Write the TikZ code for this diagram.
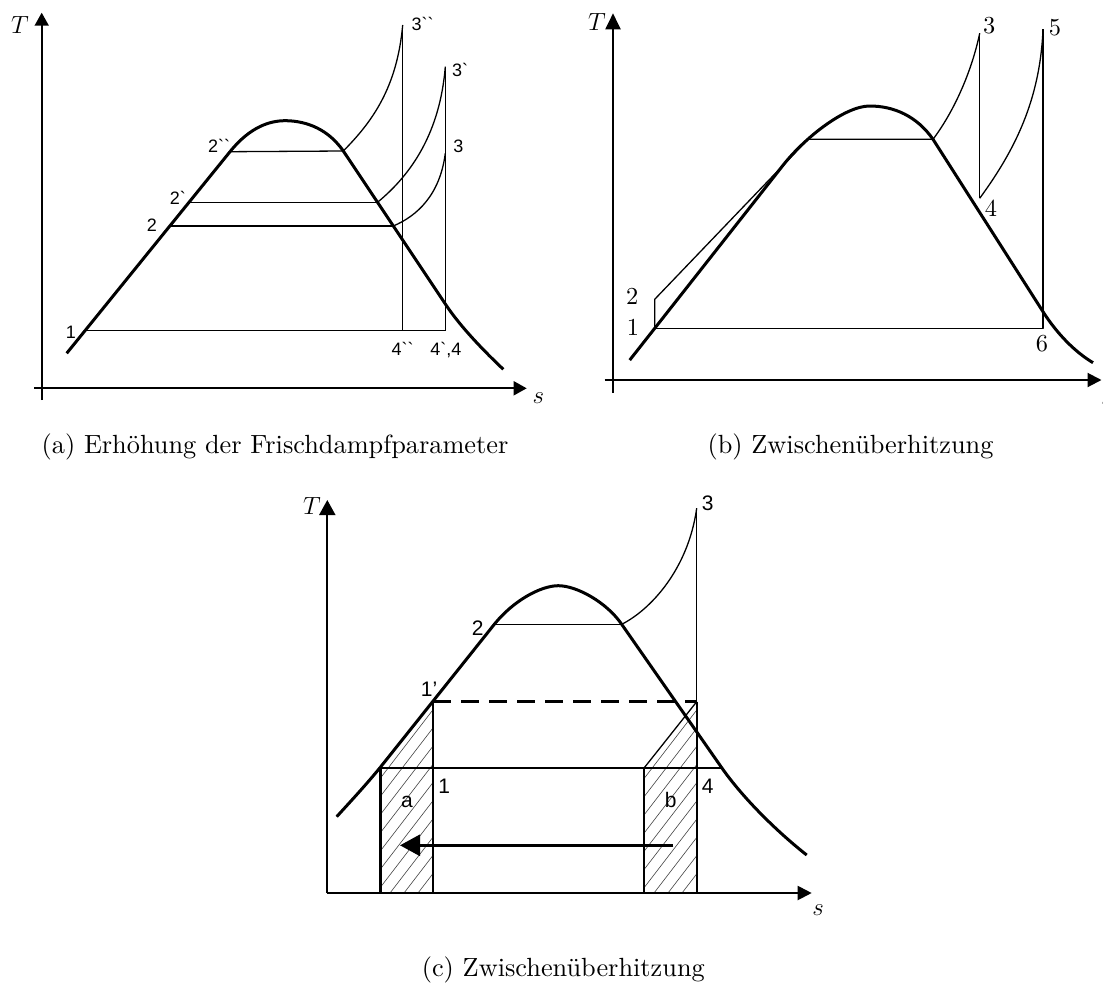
\documentclass[tikz,border=0pt]{standalone}
\usepackage{fontspec}
\newfontfamily\labsans{Liberation Sans}[Ligatures=TeXOff]
\newfontfamily\lmten{lmroman10-regular}[Extension=.otf]
\usetikzlibrary{arrows.meta}
\begin{document}
\begin{tikzpicture}[x=1pt,y=-1pt,
  dome/.style={line width=3pt,line join=round},
  thinl/.style={line width=1.3pt},
  medl/.style={line width=2pt},
  thickl/.style={line width=3pt},
  axisA/.style={line width=1.8pt,-{Triangle[length=13pt,width=14pt]}},
  hatchl/.style={line width=0.6pt,black!75},
  lbA/.style={font=\labsans\fontsize{18}{19}\selectfont,anchor=base,inner sep=0pt},
  lbM/.style={font=\fontsize{24.4}{26}\selectfont,anchor=base,inner sep=0pt},
  lbB/.style={font=\lmten\fontsize{24.4}{26}\selectfont,anchor=base,inner sep=0pt},
  lbC/.style={font=\labsans\fontsize{21}{23}\selectfont,anchor=base,inner sep=0pt},
  capt/.style={font=\lmten\fontsize{26.3}{30}\selectfont,anchor=base,inner sep=0pt}
]
\useasboundingbox (0,0) rectangle (1103,983);

%================ Panel (a) ================
\coordinate (aYb) at (41.7,400);
\coordinate (aYt) at (41.7,12.7);
\coordinate (aXl) at (34,388.3);
\coordinate (aXr) at (526.7,388.3);
\draw[axisA] (aYb) -- (aYt);
\draw[axisA] (aXl) -- (aXr);

\coordinate (a1) at (85.5,330.7);
\coordinate (a2) at (170,226);
\coordinate (a2p) at (189.2,202.3);
\coordinate (a2pp) at (230,151.7);
\coordinate (a2ppr) at (343.3,151);
\coordinate (a2pr) at (377.5,202.3);
\coordinate (a2r) at (393.3,226);
\coordinate (a3pp) at (402.7,25);
\coordinate (a3p) at (445.3,66.7);
\coordinate (a3) at (445.3,153.3);
\coordinate (a4pp) at (402.7,330.7);
\coordinate (a4) at (445.3,330.7);
\coordinate (aDs) at (66.7,353.3);
\coordinate (aPk) at (285,120.7);
\coordinate (aDx) at (446,305);
\coordinate (aDe) at (503.3,369.3);

\draw[thinl] (a2pp) -- (a2ppr);
\draw[thinl] (a2p) -- (a2pr);
\draw[thinl] (a2) -- (a2r);
\draw[thinl] (a1) -- (a4);
\draw[thinl] (a2ppr) .. controls (372,122) and (397,88) .. (a3pp);
\draw[thinl] (a3pp) -- (a4pp);
\draw[thinl] (a2pr) .. controls (412,174) and (440,132) .. (a3p);
\draw[thinl] (a2r) .. controls (417,216) and (440,195) .. (a3);
\draw[thinl] (a3p) -- (a4);

\draw[dome] (aDs) -- (a2pp) .. controls (250,126.8) and (270,120.7) .. (aPk)
  .. controls (300,120.7) and (325.3,125) .. (a2ppr) -- (aDx)
  .. controls (461,327.5) and (485,352) .. (aDe);

\node[lbM] (aT) at (20,33.3) {$T$};
\node[lbM] (aS) at (538.3,403.3) {$s$};
\node[lbA] (la1) at (70.8,338.3) {1};
\node[lbA] (la2) at (152,231.7) {2};
\node[lbA] (la2p) at (177.8,204) {2`};
\node[lbA] (la2pp) at (219,152.7) {2``};
\node[lbA] (la3pp) at (422.5,30) {3``};
\node[lbA] (la3p) at (460,76.7) {3`};
\node[lbA] (la3) at (458.3,152.7) {3};
\node[lbA] (la4pp) at (402.5,355) {4``};
\node[lbA] (la4) at (445.8,355) {4`,4};

\node[capt] (capA) at (275,453.3) {(a) Erhöhung der Frischdampfparameter};

%================ Panel (b) ================
\coordinate (bYb) at (613,392.7);
\coordinate (bYt) at (613,13.3);
\coordinate (bXl) at (604.7,380);
\coordinate (bXr) at (1101.5,380);
\draw[line width=2pt,-{Triangle[length=16pt,width=15pt]}] (bYb) -- (bYt);
\draw[line width=2pt,-{Triangle[length=14pt,width=14pt]}] (bXl) -- (bXr);

\coordinate (b1) at (654.7,328.3);
\coordinate (b2) at (654.7,299.3);
\coordinate (bL) at (808,139.3);
\coordinate (bR) at (933,139.3);
\coordinate (b3) at (979.7,33.3);
\coordinate (b4) at (979.7,198.3);
\coordinate (b5) at (1043,29.3);
\coordinate (b6) at (1043,328.3);
\coordinate (bDs) at (629.7,360.1);
\coordinate (bDt) at (783,165.3);
\coordinate (bPk) at (869.7,106);
\coordinate (bDx) at (1043,311.7);
\coordinate (bDe) at (1093,362.7);

\draw[thinl,line join=round] (b1) -- (b2) -- (bL) -- (bR);
\draw[thinl] (bR) .. controls (955,110) and (972,70) .. (b3);
\draw[thinl] (b3) -- (b4);
\draw[thinl] (b4) .. controls (1015,150) and (1040,100) .. (b5);
\draw[thinl,line join=round] (b5) -- (b6) -- (b1);

\draw[dome] (bDs) -- (bDt) .. controls (805,137.4) and (845,106) .. (bPk)
  .. controls (894,106) and (917,116.3) .. (bR) -- (bDx)
  .. controls (1057,333.7) and (1075,352) .. (bDe);

\node[lbM] (bT) at (597,30) {$T$};
\node[lbM] (bS) at (1107,405) {$s$};
\node[lbB] (lb2) at (632.3,304) {2};
\node[lbB] (lb1) at (633,335) {1};
\node[lbB] (lb3) at (989.3,33.3) {3};
\node[lbB] (lb5) at (1055,35) {5};
\node[lbB] (lb4) at (991,216.7) {4};
\node[lbB] (lb6) at (1042,351.7) {6};

\node[capt] (capB) at (850.5,453.3) {(b) Zwischenüberhitzung};

%================ Panel (c) ================
\coordinate (cO) at (327.3,893);
\coordinate (cYt) at (327.3,500);
\coordinate (cXr) at (811.7,893);
\coordinate (c1p) at (433.3,701.7);
\coordinate (c2) at (494.3,624.3);
\coordinate (c2r) at (621.7,624.3);
\coordinate (c3) at (696.7,508.3);
\coordinate (cD) at (696.7,701.7);
\coordinate (cL) at (380,767.7);
\coordinate (cR) at (721.7,767.7);
\coordinate (cB1) at (644.3,767.7);
\coordinate (cLa) at (380,893);
\coordinate (c1a) at (433.3,893);
\coordinate (cb1) at (644.3,893);
\coordinate (c4a) at (696.7,893);
\coordinate (cAs) at (673.3,845.3);
\coordinate (cAe) at (400,845.3);
\coordinate (cDs) at (336.7,816.7);
\coordinate (cPk) at (558.3,585.7);
\coordinate (cDe) at (806.7,855);

% hatching
\begin{scope}
  \clip (cLa) -- (cL) -- (c1p) -- (c1a) -- cycle;
  \foreach \k in {0,...,16} { \draw[hatchl] (222+\k*14,893) -- ++(150,-195); }
\end{scope}
\begin{scope}
  \clip (cb1) -- (cB1) -- (cD) -- (c4a) -- cycle;
  \foreach \k in {0,...,16} { \draw[hatchl] (486+\k*14,893) -- ++(150,-195); }
\end{scope}

\draw[line width=2pt,-{Triangle[length=15pt,width=16pt]}] (cO) -- (cYt);
\draw[line width=2pt,-{Triangle[length=14pt,width=14pt]}] (cO) -- (cXr);

\draw[thinl] (c2) -- (c2r);
\draw[thinl] (c2r) .. controls (650,610) and (688,570) .. (c3);
\draw[thinl] (c3) -- (cD);
\draw[medl] (cD) -- (c4a);
\draw[thickl,dash pattern=on 18pt off 10pt] (c1p) -- (cD);
\draw[medl] (c1p) -- (c1a);
\draw[thickl] (cL) -- (cLa);
\draw[medl] (cL) -- (cR);
\draw[medl] (cB1) -- (cb1);
\draw[thinl] (cB1) -- (cD);
\draw[line width=3pt,-{Triangle[length=20pt,width=21pt]}] (cAs) -- (cAe);

\draw[dome] (cDs) .. controls (350,802) and (365,786) .. (cL) -- (c2)
  .. controls (512.3,601.7) and (540,585.7) .. (cPk)
  .. controls (576.7,585.7) and (606.7,602.3) .. (c2r) -- (cR)
  .. controls (741.7,796.4) and (775,830) .. (cDe);

\node[lbM] (cT) at (312,514) {$T$};
\node[lbM] (cS) at (818,915) {$s$};
\node[lbC] (lc3) at (707.8,510) {3};
\node[lbC] (lc2) at (477.8,635) {2};
\node[lbC] (lc1p) at (429,696.7) {1’};
\node[lbC] (lc1) at (444.2,793.3) {1};
\node[lbC] (lc4) at (707.8,793.3) {4};
\node[lbC] (lca) at (407,807) {a};
\node[lbC] (lcb) at (670.7,807.3) {b};

\node[capt] (capC) at (563.3,976.5) {(c) Zwischenüberhitzung};
\end{tikzpicture}
\end{document}
